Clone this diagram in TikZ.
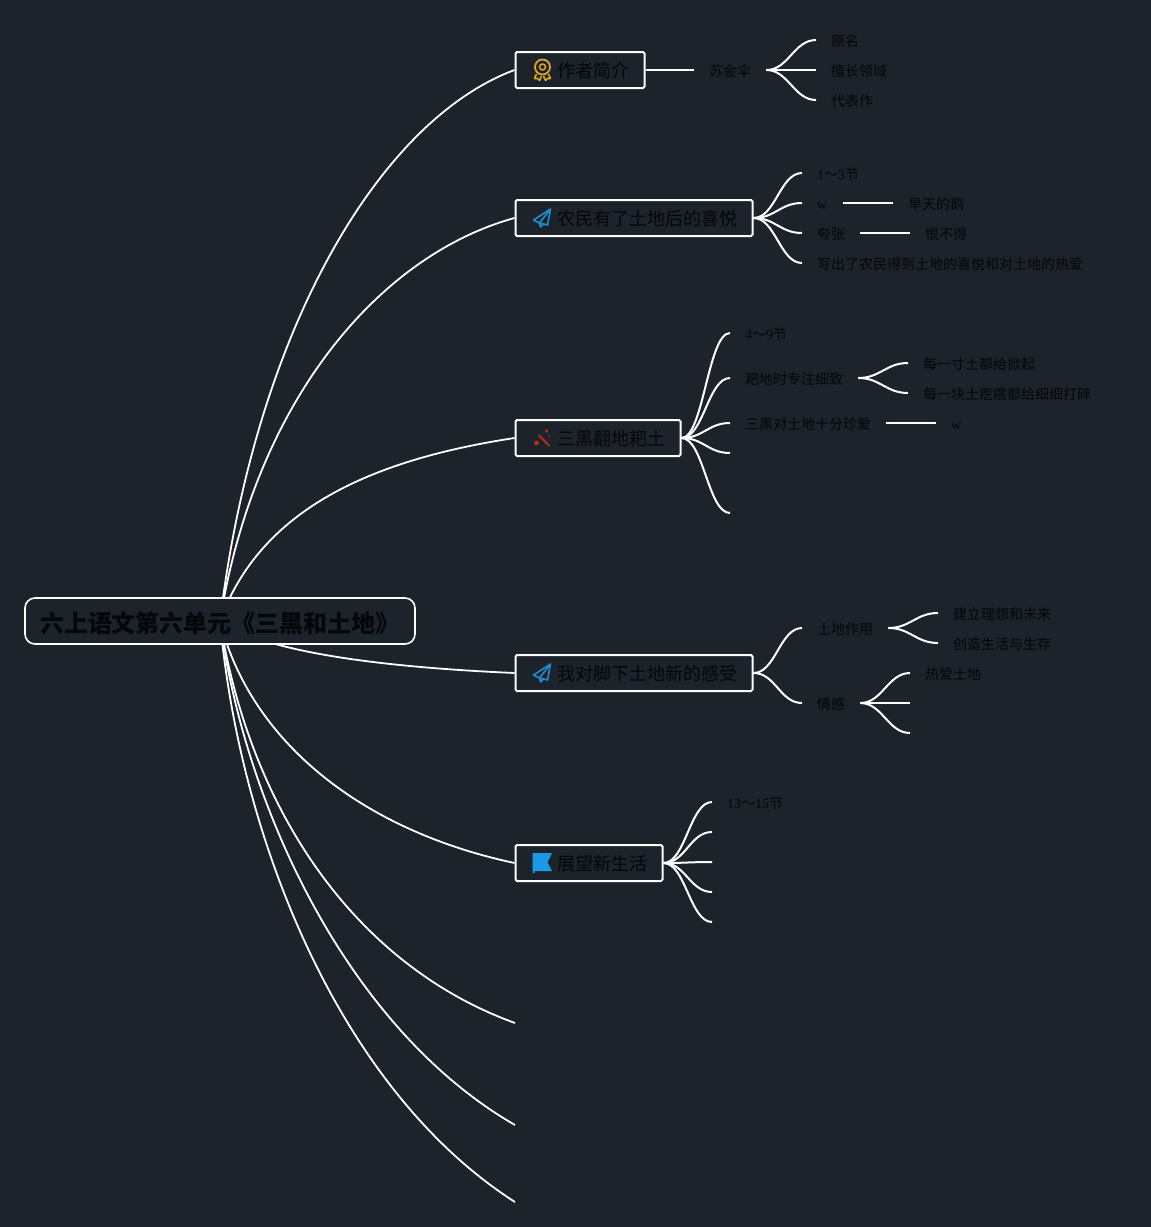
\documentclass[tikz,border=0pt]{standalone}
\usepackage{fontspec}
\usetikzlibrary{backgrounds}
\setmainfont{Noto Sans CJK SC}
\newfontfamily\latinfont{Liberation Serif}
\newcommand{\lat}[1]{{\latinfont #1}}
\definecolor{slatebg}{HTML}{1C232B}
\definecolor{inkdark}{HTML}{05070A}
\definecolor{medalgold}{HTML}{DFA81B}
\definecolor{planeblue}{HTML}{1F8DCB}
\definecolor{flagblue}{HTML}{1A9AE6}
\definecolor{toolred}{HTML}{B92A18}
\tikzset{
  rootbox/.style={draw=white, fill=slatebg, line width=1.6pt, rounded corners=10pt, minimum width=390pt, minimum height=46pt, font=\fontsize{24}{24}\bfseries\selectfont, text=inkdark, inner sep=0pt, text height=24pt, text depth=2pt},
  topicbox/.style={draw=white, fill=slatebg, line width=2pt, rounded corners=1.5pt, anchor=west, minimum height=36pt, inner xsep=15pt, inner ysep=0pt, font=\fontsize{18}{18}\selectfont, text=inkdark, text height=18pt, text depth=2.4pt},
  leaf/.style={anchor=west, inner xsep=15pt, inner ysep=0pt, text height=14pt, text depth=1.4pt, font=\fontsize{14}{14}\selectfont, text=inkdark},
  limb/.style={draw=white, line width=1.8pt},
  stub/.style={draw=white, line width=2pt},
  twig/.style={draw=white, line width=2pt, out=0, in=180, out distance=22pt, in distance=22pt},
  medalicon/.pic={
    \draw[medalgold, line width=1.8pt] (28,-3) circle (7.5pt);
    \draw[medalgold, line width=1.5pt] (28,-3) circle (3pt);
    \draw[medalgold, line width=1.6pt, line join=round] (22,4) -- (20,8.5) -- (23,8.5) -- (25,10.5) -- (27,6);
    \draw[medalgold, line width=1.6pt, line join=round] (34,4) -- (36,8.5) -- (33,8.5) -- (31,10.5) -- (29,6);
  },
  planeicon/.pic={
    \draw[planeblue, line width=1.6pt, line join=round] (36,-9) -- (19,2) -- (25,5) -- (33,7) -- cycle;
    \draw[planeblue, line width=1.6pt, line join=round] (36,-9) -- (25,5) -- (26,9) -- (29,6);
  },
  toolicon/.pic={
    \draw[toolred, line width=2pt] (24,-3) -- (35,8);
    \fill[toolred] (22,5) circle (2.4pt) (32,-7) circle (1.8pt) (35,-2) circle (1pt);
  },
  flagicon/.pic={
    \fill[flagblue] (18,-10) -- (37.5,-10) -- (33,-1) -- (37.5,8) -- (20,8) -- (20,10) -- (18,10) -- cycle;
  },
}

\begin{document}
\begin{tikzpicture}[x=1pt, y=-1pt]
  \useasboundingbox (0,0) rectangle (1151,1227);

  \node[rootbox] (root) at (220,621) {六上语文第六单元《三黑和土地》};
  \coordinate (hub) at (220,621);

  \node[topicbox] (author) at (514.5,70) {\hspace*{27pt}作者简介};
  \node[topicbox] (joy) at (514.5,218) {\hspace*{27pt}农民有了土地后的喜悦};
  \node[topicbox] (plough) at (514.5,438) {\hspace*{27pt}三黑翻地耙土};
  \node[topicbox] (feel) at (514.5,673) {\hspace*{27pt}我对脚下土地新的感受};
  \node[topicbox] (future) at (514.5,863) {\hspace*{27pt}展望新生活};
  \coordinate (free6) at (515,1023);
  \coordinate (free7) at (515,1125);
  \coordinate (free8) at (515,1202);

  \pic at (author.west) {medalicon};
  \pic at (joy.west) {planeicon};
  \pic at (plough.west) {toolicon};
  \pic at (feel.west) {planeicon};
  \pic at (future.west) {flagicon};

  % author
  \node[leaf] (su) at (694,70) {苏金伞};
  \node[leaf] (su1) at (816,40) {原名};
  \node[leaf] (su2) at (816,70) {擅长领域};
  \node[leaf] (su3) at (816,100) {代表作};

  % joy
  \node[leaf] (joy1) at (802,173) {\lat{1}～\lat{3}节};
  \node[leaf] (joy2) at (802,203) {\lat{w}};
  \node[leaf] (joy3) at (802,233) {夸张};
  \node[leaf] (joy4) at (802,263) {写出了农民得到土地的喜悦和对土地的热爱};
  \node[leaf] (joy2a) at (893,203) {旱天的鹅};
  \node[leaf] (joy3a) at (910,233) {恨不得};

  % plough
  \node[leaf] (pl1) at (730,333) {\lat{4}～\lat{9}节};
  \node[leaf] (pl2) at (730,378) {耙地时专注细致};
  \node[leaf] (pl3) at (730,423) {三黑对土地十分珍爱};
  \coordinate (pl4) at (730,453);
  \coordinate (pl5) at (730,513);
  \node[leaf] (pl2a) at (908,363) {每一寸土都给掀起};
  \node[leaf] (pl2b) at (908,393) {每一块土疙瘩都给细细打碎};
  \node[leaf] (pl3a) at (936,423) {\lat{w}};

  % feel
  \node[leaf] (fe1) at (802,628) {土地作用};
  \node[leaf] (fe2) at (802,703) {情感};
  \node[leaf] (fe1a) at (938,613) {建立理想和未来};
  \node[leaf] (fe1b) at (938,643) {创造生活与生存};
  \node[leaf] (fe2a) at (910,673) {热爱土地};
  \coordinate (fe2b) at (910,703);
  \coordinate (fe2c) at (910,733);

  % future
  \node[leaf] (fu1) at (712,802) {\lat{13}～\lat{15}节};
  \coordinate (fu2) at (712,832);
  \coordinate (fu3) at (712,862);
  \coordinate (fu4) at (712,892);
  \coordinate (fu5) at (712,922);

  \begin{scope}[on background layer]
    \fill[slatebg] (0,0) rectangle (1151,1227);
    \draw[limb] (hub) .. controls (255,330) and (380,120) .. (author.west);
    \draw[limb] (hub) .. controls (255,400) and (380,255) .. (joy.west);
    \draw[limb] (hub) .. controls (260,510) and (370,460) .. (plough.west);
    \draw[limb] (hub) .. controls (270,655) and (400,668) .. (feel.west);
    \draw[limb] (hub) .. controls (250,740) and (360,830) .. (future.west);
    \draw[limb] (hub) .. controls (250,810) and (355,965) .. (free6);
    \draw[limb] (hub) .. controls (245,810) and (350,1030) .. (free7);
    \draw[limb] (hub) .. controls (240,840) and (340,1090) .. (free8);

    \draw[stub] (author.east) -- (su.west);
    \foreach \kid in {su1,su2,su3} \draw[twig] (su.east) to (\kid.west);

    \foreach \kid in {joy1,joy2,joy3,joy4} \draw[twig] (joy.east) to (\kid.west);
    \draw[stub] (joy2.east) -- (joy2a.west);
    \draw[stub] (joy3.east) -- (joy3a.west);

    \foreach \kid in {pl1,pl2,pl3} \draw[twig] (plough.east) to (\kid.west);
    \foreach \kid in {pl4,pl5} \draw[twig] (plough.east) to (\kid);
    \foreach \kid in {pl2a,pl2b} \draw[twig] (pl2.east) to (\kid.west);
    \draw[stub] (pl3.east) -- (pl3a.west);

    \foreach \kid in {fe1,fe2} \draw[twig] (feel.east) to (\kid.west);
    \foreach \kid in {fe1a,fe1b} \draw[twig] (fe1.east) to (\kid.west);
    \draw[twig] (fe2.east) to (fe2a.west);
    \foreach \kid in {fe2b,fe2c} \draw[twig] (fe2.east) to (\kid);

    \draw[twig] (future.east) to (fu1.west);
    \foreach \kid in {fu2,fu3,fu4,fu5} \draw[twig] (future.east) to (\kid);
  \end{scope}
\end{tikzpicture}
\end{document}
